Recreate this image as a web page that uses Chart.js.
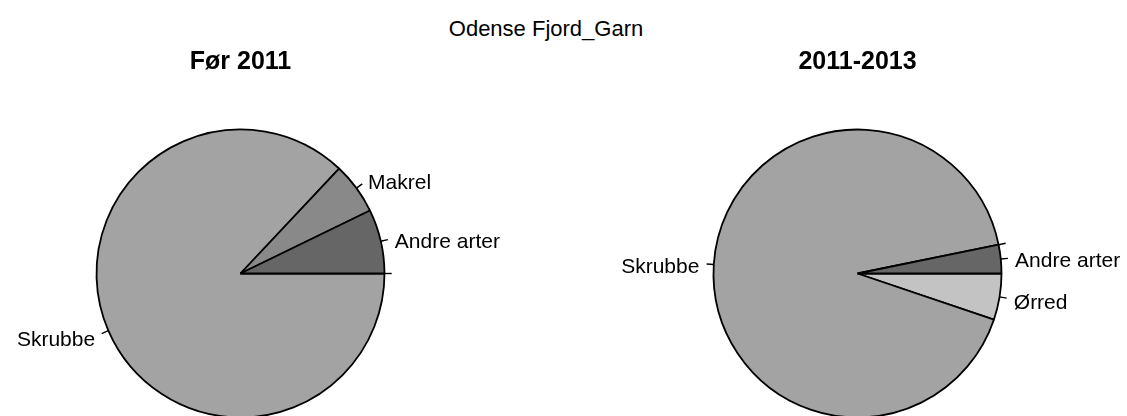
<!DOCTYPE html>
<html>
<head>
<meta charset="utf-8">
<script src="https://cdn.jsdelivr.net/npm/chart.js@4"></script>
<style>
  html, body { margin: 0; padding: 0; background: #fff; overflow: hidden; }
  body { width: 1127px; height: 416px; position: relative; }
  #main-title {
    position: absolute; left: 0; top: 15px; width: 1092px; text-align: center;
    font: 22px "Liberation Sans", Arial, sans-serif; line-height: 28px; color: #000;
  }
  .pie-box { position: absolute; top: 0; height: 420px; }
</style>
</head>
<body>
<div id="main-title">Odense Fjord_Garn</div>
<div class="pie-box" style="left:0;width:563px"><canvas id="pie-before"></canvas></div>
<div class="pie-box" style="left:563px;width:564px"><canvas id="pie-after"></canvas></div>
<script>
// species, in the order R drew them (counter-clockwise from 3 o'clock)
const categories = ['Andre arter', 'Makrel', 'Skrubbe', 'Ørred'];
// share of catch (%) per period
const before2011 = [7.2, 5.8, 87.0, 0];
const period2011to2013 = [3.2, 0, 91.6, 5.2];
const sliceColours = ['#666666', '#898989', '#a3a3a3', '#c3c3c3'];
const panelTitles = ['Før 2011', '2011-2013'];

/**
 * Draws R style slice labels: a short tick out of the rim and the name beside it.
 * Slices with no value keep their tick but get no text.
 */
const sliceLabels = {
  id: 'sliceLabels',
  afterDatasetsDraw(chart) {
    const ctx = chart.ctx;
    const meta = chart.getDatasetMeta(0);
    const labels = chart.data.labels;
    const values = chart.data.datasets[0].data;
    ctx.save();
    ctx.font = '21px "Liberation Sans", Arial, sans-serif';
    ctx.fillStyle = '#000';
    ctx.strokeStyle = '#000';
    ctx.lineWidth = 1.4;
    ctx.textBaseline = 'middle';
    meta.data.forEach((arc, i) => {
      const mid = (arc.startAngle + arc.endAngle) / 2;
      const r = arc.outerRadius;
      const cos = Math.cos(mid);
      const sin = Math.sin(mid);
      ctx.beginPath();
      ctx.moveTo(arc.x + r * cos, arc.y + r * sin);
      ctx.lineTo(arc.x + 1.05 * r * cos, arc.y + 1.05 * r * sin);
      ctx.stroke();
      if (values[i] > 0) {
        ctx.textAlign = cos >= 0 ? 'left' : 'right';
        // R centres its labels a little below the tick
        ctx.fillText(labels[i], arc.x + 1.1 * r * cos, arc.y + 1.1 * r * sin + 4);
      }
    });
    ctx.restore();
  }
};

/**
 * Builds one pie. Chart.js goes clockwise, so the data is reversed
 * and started at 3 o'clock to get R's counter-clockwise layout.
 */
function makePie(canvasId, values, title, padLeft, padRight) {
  return new Chart(document.getElementById(canvasId), {
    type: 'pie',
    data: {
      labels: [...categories].reverse(),
      datasets: [{
        data: [...values].reverse(),
        backgroundColor: [...sliceColours].reverse(),
        borderColor: '#000',
        borderWidth: 1.8,
        radius: 144
      }]
    },
    options: {
      responsive: true,
      maintainAspectRatio: false,
      animation: false,
      devicePixelRatio: 1,
      rotation: 90,
      layout: { padding: { left: padLeft, right: padRight, top: 0, bottom: 2 } },
      plugins: {
        legend: { display: false },
        tooltip: { enabled: false },
        title: {
          display: true,
          text: title,
          color: '#000',
          font: { family: '"Liberation Sans", Arial, sans-serif', size: 25, weight: 'bold' },
          padding: { top: 47, bottom: 52 }
        }
      }
    },
    plugins: [sliceLabels]
  });
}

makePie('pie-before', before2011, panelTitles[0], 96, 178);
makePie('pie-after', period2011to2013, panelTitles[1], 150, 125);
</script>
</body>
</html>
